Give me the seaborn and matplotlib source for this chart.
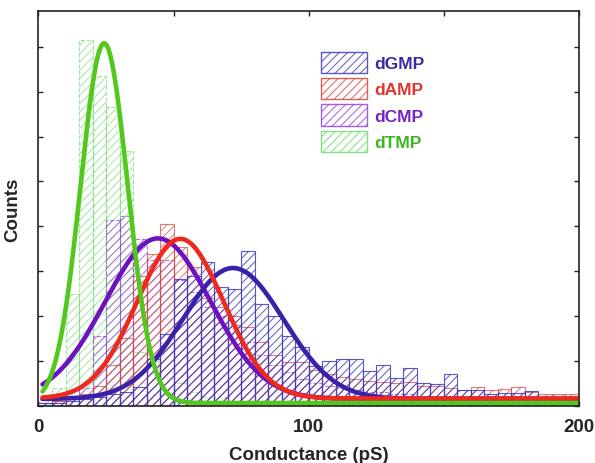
import matplotlib
matplotlib.use("Agg")
import matplotlib.pyplot as plt
from matplotlib.patches import Patch
from matplotlib.ticker import MultipleLocator
import numpy as np
import pandas as pd
import seaborn as sns


# histogram bins: 5 pS wide, 0-200 pS
BIN_WIDTH = 5
BIN_LEFT = np.arange(0, 200, BIN_WIDTH)

# counts per bin (40 bins each)
dgmp_counts = [0.5, 0.5, 1.0, 1.5, 2.0, 2.5, 3.0, 4.2, 10.4, 16.0,
               28.3, 29.0, 32.0, 26.4, 26.0, 34.5, 22.7, 20.1, 15.6, 13.0,
               8.9, 10.0, 10.4, 10.4, 7.8, 9.1, 6.1, 8.3, 5.1, 4.9,
               7.1, 3.6, 3.4, 2.6, 2.8, 2.8, 3.3, 1.0, 0.5, 0.5]
damp_counts = [0.5, 1.0, 1.5, 2.5, 4.5, 9.0, 15.0, 29.0, 33.9, 40.6,
               35.4, 31.0, 24.0, 22.0, 20.0, 17.6, 14.2, 11.2, 9.8, 9.8,
               8.0, 7.0, 6.5, 6.0, 5.5, 5.2, 5.0, 5.2, 4.5, 4.5,
               4.0, 3.5, 4.1, 3.5, 3.7, 4.1, 3.0, 2.5, 2.5, 2.5]
dcmp_counts = [0.5, 1.0, 2.0, 4.0, 15.5, 41.3, 42.4, 37.2, 32.4, 32.4,
               28.0, 25.4, 22.0, 20.0, 18.0, 14.2, 11.2, 9.0, 7.5, 6.0,
               5.0, 4.5, 4.0, 3.5, 3.0, 3.0, 2.5, 2.5, 2.0, 2.0,
               1.5, 1.5, 1.0, 1.0, 1.0, 0.5, 0.5, 0.5, 0.5, 0.5]
dtmp_counts = [1.5, 4.0, 24.8, 81.6, 73.4, 66.7, 56.7, 12.0, 10.0, 14.0,
               5.0, 3.0, 2.0, 2.0, 1.0, 1.0, 0.5, 0.5, 0.5, 0.5,
               0, 0, 0, 0, 0, 0, 0, 0, 0, 0,
               0, 0, 0, 0, 0, 0, 0, 0, 0, 0]

# gaussian fit parameters: center, width, amplitude, baseline
fit_params = {
    "dGMP": (72.0, 18.7, 29.2, 1.5),
    "dAMP": (52.5, 16.0, 35.6, 1.6),
    "dCMP": (44.2, 19.5, 35.8, 1.5),
    "dTMP": (24.3, 8.7, 80.2, 0.6),
}

labels = ["dGMP", "dAMP", "dCMP", "dTMP"]
bar_colors = {"dGMP": "#3c3cc0", "dAMP": "#d8443c", "dCMP": "#9440e0", "dTMP": "#6edc66"}
line_colors = {"dGMP": "#3a22a8", "dAMP": "#ee2a1e", "dCMP": "#6c12c0", "dTMP": "#52c81c"}
text_colors = {"dGMP": "#3a2aa6", "dAMP": "#e0342c", "dCMP": "#7a22c0", "dTMP": "#3cb521"}

sns.set_style("ticks")
plt.rcParams["font.family"] = ["Liberation Sans", "DejaVu Sans"]
plt.rcParams["hatch.linewidth"] = 0.7

fig = plt.figure(figsize=(5.95, 4.64), dpi=100)
ax = fig.add_axes([0.0647, 0.1235, 0.9083, 0.8506])

hist_df = pd.DataFrame({
    "center": np.tile(BIN_LEFT + BIN_WIDTH / 2, 4),
    "counts": dgmp_counts + damp_counts + dcmp_counts + dtmp_counts,
    "sample": np.repeat(labels, len(BIN_LEFT)),
})

bar_style = {
    "dGMP": dict(alpha=0.85, linestyle="-"),
    "dAMP": dict(alpha=0.7, linestyle="-"),
    "dCMP": dict(alpha=0.7, linestyle="--"),
    "dTMP": dict(alpha=0.65, linestyle="--"),
}

for name in ["dTMP", "dCMP", "dAMP", "dGMP"]:
    sub = hist_df[hist_df["sample"] == name]
    sns.histplot(
        data=sub, x="center", weights="counts",
        bins=len(BIN_LEFT), binrange=(0, 200),
        element="bars", fill=False, color=bar_colors[name],
        hatch="////", linewidth=0.8, ax=ax, **bar_style[name],
    )

xs = np.linspace(1.5, 200, 500)
for name in ["dCMP", "dGMP", "dAMP", "dTMP"]:
    xc, w, amp, y0 = fit_params[name]
    ys = y0 + amp * np.exp(-((xs - xc) ** 2) / (2 * w ** 2))
    sns.lineplot(x=xs, y=ys, color=line_colors[name], linewidth=3.3, ax=ax)

ax.set_xlim(0, 200)
ax.set_ylim(0, 88)
ax.xaxis.set_major_locator(MultipleLocator(100))
ax.xaxis.set_minor_locator(MultipleLocator(50))
ax.yaxis.set_major_locator(MultipleLocator(10))
ax.set_yticklabels([])
ax.tick_params(axis="both", which="both", direction="in", top=True, right=True,
               length=3.5, width=1, color="#222222")
ax.tick_params(axis="x", which="major", labelsize=13.5, pad=9)
for lab in ax.get_xticklabels():
    lab.set_fontweight("bold")

for side in ["left", "right", "top", "bottom"]:
    ax.spines[side].set_visible(True)
    ax.spines[side].set_linewidth(1.2)
    ax.spines[side].set_color("#222222")

ax.set_xlabel("Conductance (pS)", fontsize=13.5, fontweight="bold", labelpad=8)
ax.set_ylabel("Counts", fontsize=13.5, fontweight="bold", labelpad=9)

handles = [
    Patch(facecolor="none", edgecolor=bar_colors[n], hatch="////", linewidth=1.0, alpha=0.85)
    for n in labels
]
leg = ax.legend(handles, labels, loc="upper left", bbox_to_anchor=(0.522, 0.897),
                frameon=False, handlelength=2.65, handleheight=1.5,
                handletextpad=0.45, labelspacing=0.3, borderpad=0, borderaxespad=0,
                prop={"weight": "bold", "size": 12.5})
for txt, n in zip(leg.get_texts(), labels):
    txt.set_color(text_colors[n])

fig.savefig("out.png", dpi=100)
